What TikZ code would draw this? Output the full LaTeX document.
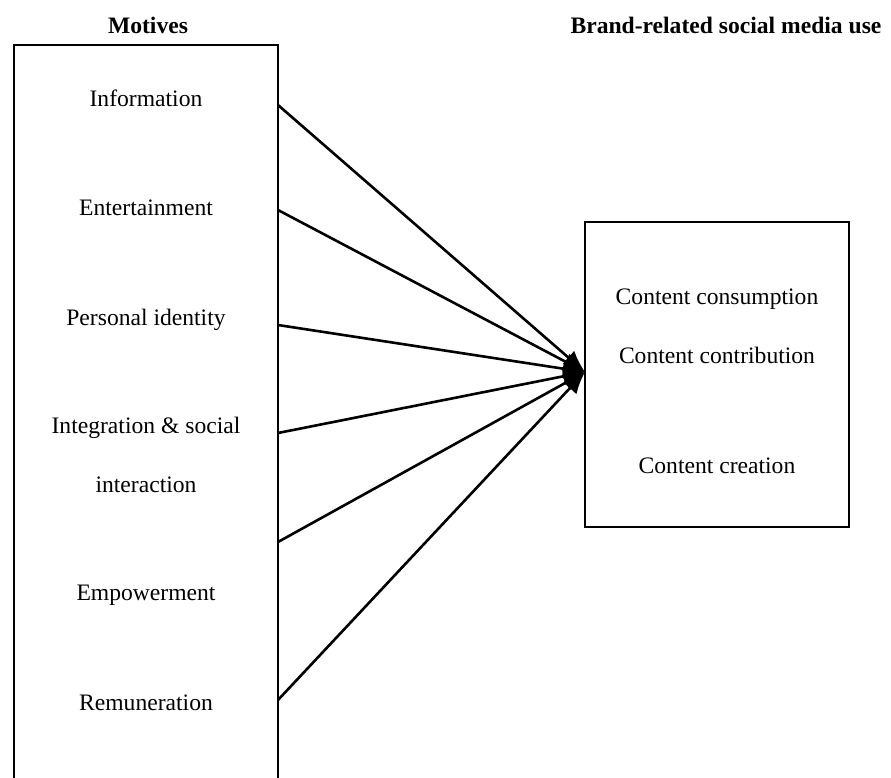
\documentclass[tikz,border=0pt]{standalone}
\usepackage{fontspec}
\setmainfont{Liberation Serif}
\usetikzlibrary{arrows.meta}
\begin{document}
\begin{tikzpicture}[x=0.5pt,y=-0.5pt,
  lbl/.style={font=\fontsize{11.8}{14}\selectfont, inner sep=0pt, anchor=center},
  ttl/.style={font=\fontsize{11.8}{14}\selectfont\bfseries, inner sep=0pt, anchor=center},
  box/.style={draw=black, line width=1pt},
  conn/.style={draw=black, line width=1.3pt, -{Latex[length=11pt,width=9pt]}}]
\useasboundingbox (0,0) rectangle (891,778);
\begin{scope}
\clip (0,0) rectangle (891,778);
\draw[box] (14,45) rectangle (278,800);
\end{scope}
\draw[box] (585,222) rectangle (849,527);
\node[ttl] (tmot) at (148,25) {Motives};
\node[ttl] (tbrand) at (726,25) {Brand-related social media use};
\node[lbl] (info) at (146,98) {Information};
\node[lbl] (ent) at (146,208) {Entertainment};
\node[lbl] (pid) at (146,320) {Personal identity};
\node[lbl] (int1) at (146,428) {Integration \& social};
\node[lbl] (int2) at (146,485) {interaction};
\node[lbl] (emp) at (146,595) {Empowerment};
\node[lbl] (rem) at (146,703) {Remuneration};
\node[lbl] (cons) at (717,299) {Content consumption};
\node[lbl] (contr) at (717,355) {Content contribution};
\node[lbl] (crea) at (717,466) {Content creation};
\coordinate (s1) at (278,105);
\coordinate (s2) at (278,210);
\coordinate (s3) at (278,325);
\coordinate (s4) at (278,433);
\coordinate (s5) at (278,542);
\coordinate (s6) at (278,700);
\coordinate (hub) at (585,372);
\foreach \s in {s1,s2,s3,s4,s5,s6} \draw[conn] (\s) -- (hub);
\end{tikzpicture}
\end{document}
